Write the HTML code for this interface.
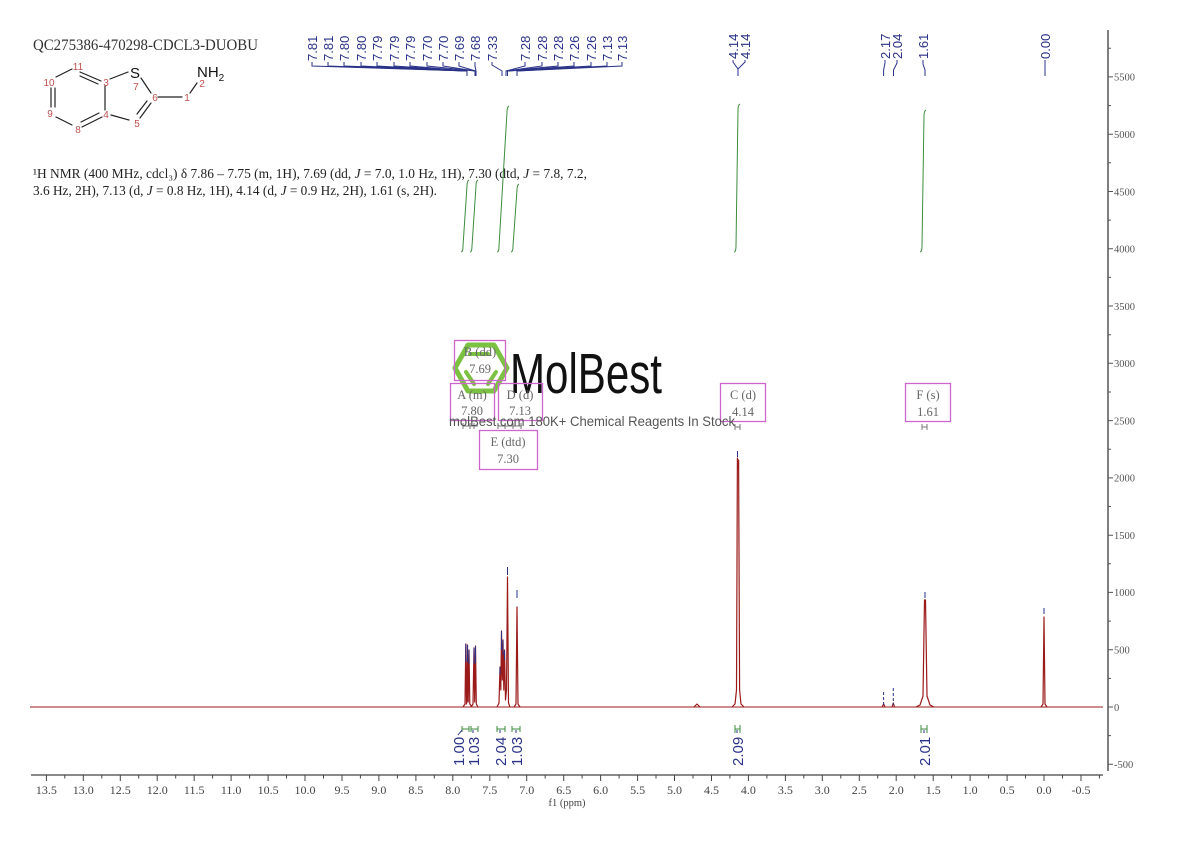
<!DOCTYPE html>
<html><head><meta charset="utf-8"><style>
html,body{margin:0;padding:0;background:#fff;width:1190px;height:841px;overflow:hidden}
svg{display:block}
</style></head><body>
<svg width="1190" height="841" viewBox="0 0 1190 841" xmlns="http://www.w3.org/2000/svg">
<rect width="1190" height="841" fill="#fff"/>

<!-- Header -->
<text x="33" y="50" font-family="Liberation Serif, serif" font-size="16" fill="#333" textLength="225" lengthAdjust="spacingAndGlyphs">QC275386-470298-CDCL3-DUOBU</text>

<!-- Structure -->
<g stroke="#222" stroke-width="1.2" fill="none" stroke-linecap="round">
  <line x1="56" y1="77" x2="72" y2="69"/>
  <line x1="80" y1="72" x2="101" y2="81"/>
  <line x1="80" y1="76" x2="98" y2="84"/>
  <line x1="105" y1="86" x2="105" y2="110"/>
  <line x1="102" y1="117" x2="82" y2="127"/>
  <line x1="99" y1="113" x2="81" y2="122"/>
  <line x1="72" y1="125" x2="56" y2="117"/>
  <line x1="51" y1="88" x2="51" y2="107"/>
  <line x1="55" y1="88" x2="55" y2="107"/>
  <line x1="110" y1="79" x2="128" y2="72"/>
  <line x1="141" y1="78" x2="151" y2="93"/>
  <line x1="151" y1="103" x2="140" y2="118"/>
  <line x1="147" y1="101" x2="137" y2="114"/>
  <line x1="129" y1="120" x2="111" y2="115"/>
  <line x1="158" y1="97" x2="182" y2="97"/>
  <line x1="190" y1="93" x2="197" y2="83"/>
</g>
<g font-family="Liberation Sans, sans-serif" font-size="10" fill="#c0504d" text-anchor="middle">
  <text x="78" y="70">11</text>
  <text x="49" y="86">10</text>
  <text x="106" y="86">3</text>
  <text x="106" y="118">4</text>
  <text x="78" y="133">8</text>
  <text x="50" y="117">9</text>
  <text x="136" y="90">7</text>
  <text x="155" y="101">6</text>
  <text x="137" y="127">5</text>
  <text x="187" y="101">1</text>
  <text x="202" y="87">2</text>
</g>
<text x="135" y="78" font-family="Liberation Sans, sans-serif" font-size="15" fill="#111" text-anchor="middle">S</text>
<text x="197" y="77" font-family="Liberation Sans, sans-serif" font-size="15" fill="#111">NH<tspan font-size="10" dy="4">2</tspan></text>

<!-- NMR description -->
<text x="33" y="178" font-family="Liberation Serif, serif" font-size="13.5" fill="#222" textLength="554" lengthAdjust="spacingAndGlyphs">¹H NMR (400 MHz, cdcl₃) δ 7.86 – 7.75 (m, 1H), 7.69 (dd, <tspan font-style="italic">J</tspan> = 7.0, 1.0 Hz, 1H), 7.30 (dtd, <tspan font-style="italic">J</tspan> = 7.8, 7.2,</text>
<text x="33" y="195" font-family="Liberation Serif, serif" font-size="13.5" fill="#222" textLength="404" lengthAdjust="spacingAndGlyphs">3.6 Hz, 2H), 7.13 (d, <tspan font-style="italic">J</tspan> = 0.8 Hz, 1H), 4.14 (d, <tspan font-style="italic">J</tspan> = 0.9 Hz, 2H), 1.61 (s, 2H).</text>

<!-- Peak labels -->
<g font-family="Liberation Sans, sans-serif" font-size="13" fill="#2a3288">
  <text transform="translate(317,61) rotate(-90)">7.81</text>
  <text transform="translate(333,61) rotate(-90)">7.81</text>
  <text transform="translate(349,61) rotate(-90)">7.80</text>
  <text transform="translate(366,61) rotate(-90)">7.80</text>
  <text transform="translate(382,61) rotate(-90)">7.79</text>
  <text transform="translate(399,61) rotate(-90)">7.79</text>
  <text transform="translate(415,61) rotate(-90)">7.79</text>
  <text transform="translate(432,61) rotate(-90)">7.70</text>
  <text transform="translate(448,61) rotate(-90)">7.70</text>
  <text transform="translate(464,61) rotate(-90)">7.69</text>
  <text transform="translate(480,61) rotate(-90)">7.68</text>
  <text transform="translate(497,61) rotate(-90)">7.33</text>
  <text transform="translate(530,61) rotate(-90)">7.28</text>
  <text transform="translate(547,61) rotate(-90)">7.28</text>
  <text transform="translate(563,61) rotate(-90)">7.28</text>
  <text transform="translate(579,61) rotate(-90)">7.26</text>
  <text transform="translate(596,61) rotate(-90)">7.26</text>
  <text transform="translate(612,61) rotate(-90)">7.13</text>
  <text transform="translate(627,61) rotate(-90)">7.13</text>
  <text transform="translate(738,59) rotate(-90)">4.14</text>
  <text transform="translate(750,59) rotate(-90)">4.14</text>
  <text transform="translate(890,59) rotate(-90)">2.17</text>
  <text transform="translate(902,59) rotate(-90)">2.04</text>
  <text transform="translate(928,59) rotate(-90)">1.61</text>
  <text transform="translate(1050,59) rotate(-90)">0.00</text>
</g>
<g stroke="#2a3288" stroke-width="1" fill="none">
  <path d="M312,62 V66 L467,71 V76"/>
  <path d="M328,62 V66 L467,71"/>
  <path d="M344,62 V66 L467,71"/>
  <path d="M361,62 V66 L467,71"/>
  <path d="M377,62 V66 L467.5,71"/>
  <path d="M394,62 V66 L467.5,71"/>
  <path d="M410,62 V66 L467.5,71"/>
  <path d="M427,62 V66 L475,71 V76"/>
  <path d="M443,62 V66 L475,71"/>
  <path d="M459,62 V66 L475.5,71"/>
  <path d="M475,62 V66 L476,71 V76"/>
  <path d="M492,62 V65 L502,71 V76"/>
  <path d="M525,62 V66 L506,71 V76"/>
  <path d="M542,62 V66 L506,71"/>
  <path d="M558,62 V66 L506,71"/>
  <path d="M574,62 V66 L507.5,71 V76"/>
  <path d="M591,62 V66 L507.5,71"/>
  <path d="M607,62 V66 L517,71 V76"/>
  <path d="M622,62 V66 L517,71"/>
  <path d="M733,60 V62 L738,69 V76 M745,60 V62 L738,69"/>
  <path d="M885,60 V63 L883.6,70 V76"/>
  <path d="M897,60 V63 L893.5,70 V76"/>
  <path d="M923,60 V64 L925,70 V76"/>
  <path d="M1045,60 V76"/>
</g>

<!-- Integral curves -->
<g stroke="#3c8c3c" stroke-width="1" fill="none">
  <path d="M461,252 Q463,252 463,246 L467,186 Q467,181 469,180"/>
  <path d="M470,252 Q472,252 472,246 L476,186 Q476,181 478,180"/>
  <path d="M497,252 Q499,252 499,246 L507,112 Q507,107 509,106"/>
  <path d="M511,252 Q513,252 513,246 L517,190 Q517,185 519,184"/>
  <path d="M734,252 Q736,252 736,246 L738,110 Q738,105 740,104"/>
  <path d="M920,252 Q922,252 922,246 L924,116 Q924,111 926,110"/>
</g>

<!-- Logo watermark -->
<g>
  <polygon points="455,368 468,345 494,345 507,368 494,391 468,391" fill="none" stroke="#7cc242" stroke-width="5" stroke-linejoin="round"/>
  <line x1="470" y1="354" x2="488" y2="354" stroke="#7cc242" stroke-width="4" stroke-linecap="round"/>
  <line x1="466" y1="372" x2="474" y2="384" stroke="#7cc242" stroke-width="4" stroke-linecap="round"/>
  <line x1="496" y1="372" x2="488" y2="384" stroke="#7cc242" stroke-width="4" stroke-linecap="round"/>
</g>
<text x="510" y="393" font-family="Liberation Sans, sans-serif" font-size="57" fill="#111" textLength="152" lengthAdjust="spacingAndGlyphs">MolBest</text>

<!-- Magenta boxes -->
<g fill="none" stroke="#cc66cc" stroke-width="1.3">
  <rect x="454.5" y="340.5" width="51" height="40"/>
  <rect x="450.5" y="383.5" width="44" height="37"/>
  <rect x="498.5" y="383.5" width="44" height="37"/>
  <rect x="479.5" y="430.5" width="58" height="39"/>
  <rect x="720.5" y="383.5" width="45" height="38"/>
  <rect x="905.5" y="383.5" width="45" height="38"/>
</g>
<g font-family="Liberation Serif, serif" font-size="12.5" fill="#666" text-anchor="middle">
  <text x="480" y="356">B (dd)</text><text x="480" y="373">7.69</text>
  <text x="472" y="399">A (m)</text><text x="472" y="415">7.80</text>
  <text x="520" y="399">D (d)</text><text x="520" y="415">7.13</text>
  <text x="508" y="446">E (dtd)</text><text x="508" y="463">7.30</text>
  <text x="743" y="399">C (d)</text><text x="743" y="416">4.14</text>
  <text x="928" y="399">F (s)</text><text x="928" y="416">1.61</text>
</g>
<g stroke="#777" stroke-width="1" fill="none">
  <path d="M463,423 V429 M463,426 H470 M470,423 V429 M474,423 V429 M470,426 H478"/>
  <path d="M498,423 V429 M498,426 H522 M505,423 V429 M513,423 V429 M521,423 V429"/>
  <path d="M735,424 V430 M740,424 V430 M735,427 H740"/>
  <path d="M922,424 V430 M927,424 V430 M922,427 H927"/>
</g>
<text x="449" y="426" font-family="Liberation Sans, sans-serif" font-size="14" fill="#555" textLength="286" lengthAdjust="spacingAndGlyphs">molBest.com 180K+ Chemical Reagents In Stock</text>

<!-- Spectrum baseline -->
<line x1="30" y1="707" x2="1103" y2="707" stroke="#9b1b1b" stroke-width="1"/>

<!-- Peaks -->
<g stroke="#9b1b1b" stroke-width="1.2" fill="none" stroke-linejoin="round">
  <polyline points="463,707 465,704 465.8,644 466.5,704 467,700 467.5,645 468.2,702 469,650 469.8,704 472,707"/>
  <polyline points="471,707 473,704 474,648 474.7,702 475.5,646 476.3,704 478,707"/>
  <polyline points="497,707 499,703 500,667 500.8,690 501.5,631 502.3,680 503,640 503.8,690 504.5,650 505.5,700 506.5,690 507.5,577 508.5,703 510,707"/>
  <polyline points="514,707 516,704 517,607 518,704 520,707"/>
  <polyline points="732,707 735,704 736.5,690 737.4,458 738,470 738.6,460 739.6,690 741,704 744,707"/>
  <polyline points="694,707 697,704 700,707"/>
  <polyline points="916,707 920,705 923,696 924.5,600 925.5,600 927,696 930,705 934,707"/>
  <polyline points="1041,707 1043,704 1044,617 1045,704 1047,707"/>
  <polyline points="882,707 883.6,704 885,707"/>
  <polyline points="892,707 893.3,703 894.5,707"/>
</g>
<!-- blue overlay on peak tops -->
<g stroke="#2a3288" stroke-width="1" fill="none">
  <path d="M465.8,644 V662 M467.5,645 V662 M469,650 V664 M474,648 V664 M475.5,646 V663"/>
  <path d="M501.5,631 V650 M503,640 V655 M504.5,650 V660 M500,667 V674"/>
  <path d="M507.5,567 V575 M517,590 V598 M737.5,451 V457 M925,592 V598 M1044,608 V614"/>
  <path d="M883.6,692 V705" stroke-dasharray="3,2"/>
  <path d="M893.3,688 V705" stroke-dasharray="3,2"/>
</g>

<!-- Integral markers and labels -->
<g stroke="#3c8c3c" stroke-width="1" fill="none">
  <path d="M462,729 H469 M462,726 V732 M469,726 V732"/>
  <path d="M471,729 H478 M471,726 V732 M478,726 V732"/>
  <path d="M497,729 H505 M497,726 V732 M505,726 V732"/>
  <path d="M512,729 H520 M512,726 V732 M520,726 V732"/>
  <path d="M735,729 H740 M735,725 V733 M740,725 V733"/>
  <path d="M921,729 H927 M921,725 V733 M927,725 V733"/>
</g>
<g stroke="#2a3288" stroke-width="1" fill="none">
  <path d="M458,735 L462,730 M473,733 V730 M500,733 V730 M516,733 V730 M737,733 V730 M924,733 V730"/>
</g>
<g font-family="Liberation Sans, sans-serif" font-size="15" fill="#2a3288">
  <text transform="translate(464,766) rotate(-90)">1.00</text>
  <text transform="translate(479,766) rotate(-90)">1.03</text>
  <text transform="translate(506,766) rotate(-90)">2.04</text>
  <text transform="translate(522,766) rotate(-90)">1.03</text>
  <text transform="translate(743,766) rotate(-90)">2.09</text>
  <text transform="translate(930,766) rotate(-90)">2.01</text>
</g>

<!-- Bottom axis -->
<g stroke="#444" stroke-width="1.2">
  <line x1="31" y1="775" x2="1103" y2="775"/>
</g>
<g stroke="#444" stroke-width="1">
  <path d="M46.4,775 v6 M83.3,775 v6 M120.3,775 v6 M157.2,775 v6 M194.2,775 v6 M231.1,775 v6 M268.1,775 v6 M305,775 v6 M342,775 v6 M378.9,775 v6 M415.9,775 v6 M452.8,775 v6 M489.8,775 v6 M526.7,775 v6 M563.7,775 v6 M600.6,775 v6 M637.6,775 v6 M674.5,775 v6 M711.5,775 v6 M748.4,775 v6 M785.4,775 v6 M822.3,775 v6 M859.3,775 v6 M896.2,775 v6 M933.2,775 v6 M970.1,775 v6 M1007.1,775 v6 M1044,775 v6 M1081,775 v6"/>
  <path d="M64.8,775 v3.5 M101.8,775 v3.5 M138.7,775 v3.5 M175.7,775 v3.5 M212.6,775 v3.5 M249.6,775 v3.5 M286.5,775 v3.5 M323.5,775 v3.5 M360.4,775 v3.5 M397.4,775 v3.5 M434.3,775 v3.5 M471.3,775 v3.5 M508.2,775 v3.5 M545.2,775 v3.5 M582.1,775 v3.5 M619.1,775 v3.5 M656,775 v3.5 M693,775 v3.5 M729.9,775 v3.5 M766.9,775 v3.5 M803.8,775 v3.5 M840.8,775 v3.5 M877.7,775 v3.5 M914.7,775 v3.5 M951.6,775 v3.5 M988.6,775 v3.5 M1025.5,775 v3.5 M1062.5,775 v3.5 M1099.4,775 v3.5"/>
</g>
<g font-family="Liberation Serif, serif" font-size="12" fill="#444" text-anchor="middle">
  <text x="46.4" y="794">13.5</text><text x="83.3" y="794">13.0</text><text x="120.3" y="794">12.5</text>
  <text x="157.2" y="794">12.0</text><text x="194.2" y="794">11.5</text><text x="231.1" y="794">11.0</text>
  <text x="268.1" y="794">10.5</text><text x="305" y="794">10.0</text><text x="342" y="794">9.5</text>
  <text x="378.9" y="794">9.0</text><text x="415.9" y="794">8.5</text><text x="452.8" y="794">8.0</text>
  <text x="489.8" y="794">7.5</text><text x="526.7" y="794">7.0</text><text x="563.7" y="794">6.5</text>
  <text x="600.6" y="794">6.0</text><text x="637.6" y="794">5.5</text><text x="674.5" y="794">5.0</text>
  <text x="711.5" y="794">4.5</text><text x="748.4" y="794">4.0</text><text x="785.4" y="794">3.5</text>
  <text x="822.3" y="794">3.0</text><text x="859.3" y="794">2.5</text><text x="896.2" y="794">2.0</text>
  <text x="933.2" y="794">1.5</text><text x="970.1" y="794">1.0</text><text x="1007.1" y="794">0.5</text>
  <text x="1044" y="794">0.0</text><text x="1081" y="794">-0.5</text>
</g>
<text x="567" y="806" font-family="Liberation Serif, serif" font-size="10.5" fill="#444" text-anchor="middle">f1 (ppm)</text>

<!-- Right axis -->
<line x1="1108" y1="30" x2="1108" y2="771" stroke="#555" stroke-width="1.5"/>
<g stroke="#555" stroke-width="1">
  <path d="M1108,764.3 h5 M1108,707 h5 M1108,649.7 h5 M1108,592.4 h5 M1108,535.2 h5 M1108,477.9 h5 M1108,420.6 h5 M1108,363.3 h5 M1108,306 h5 M1108,248.8 h5 M1108,191.5 h5 M1108,134.2 h5 M1108,76.9 h5"/>
  <path d="M1108,735.6 h3 M1108,678.4 h3 M1108,621.1 h3 M1108,563.8 h3 M1108,506.5 h3 M1108,449.2 h3 M1108,392 h3 M1108,334.7 h3 M1108,277.4 h3 M1108,220.1 h3 M1108,162.8 h3 M1108,105.6 h3 M1108,48.3 h3"/>
</g>
<g font-family="Liberation Serif, serif" font-size="10.5" fill="#555">
  <text x="1114" y="768">-500</text>
  <text x="1114" y="711">0</text>
  <text x="1114" y="653.5">500</text>
  <text x="1114" y="596">1000</text>
  <text x="1114" y="539">1500</text>
  <text x="1114" y="481.5">2000</text>
  <text x="1114" y="424.5">2500</text>
  <text x="1114" y="367">3000</text>
  <text x="1114" y="310">3500</text>
  <text x="1114" y="252.5">4000</text>
  <text x="1114" y="195.5">4500</text>
  <text x="1114" y="138">5000</text>
  <text x="1114" y="80.5">5500</text>
</g>
</svg>
</body></html>
